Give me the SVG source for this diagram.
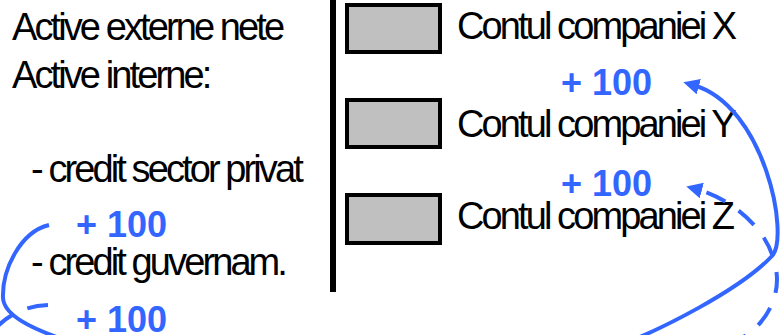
<svg xmlns="http://www.w3.org/2000/svg" width="781" height="335" viewBox="0 0 781 335">
  <style>
    .t { font-family: "Liberation Sans", Arial, sans-serif; font-size: 38px; letter-spacing: -2.9px; fill: #000; }
    .v { font-family: "Liberation Sans", Arial, sans-serif; font-size: 36px; font-weight: bold; fill: #3366ff; }
    .box { fill: #c0c0c0; stroke: #000; stroke-width: 4; }
    .flow { fill: none; stroke: #3366ff; stroke-width: 4; }
    .dash { stroke-dasharray: 21 16; }
  </style>
  <defs>
    <marker id="ah" viewBox="0 0 16 16" markerWidth="16" markerHeight="16" markerUnits="userSpaceOnUse" refX="6" refY="8" orient="auto-start-reverse">
      <path d="M0,0 L16,8 L0,16 z" fill="#3366ff"/>
    </marker>
  </defs>
  <rect width="781" height="335" fill="#fff"/>

  <g id="left-labels">
    <text class="t" x="12" y="40">Active externe nete</text>
    <text class="t" x="12" y="88">Active interne:</text>
    <text class="t" x="31" y="182">- credit sector privat</text>
    <text class="t" x="31" y="275">- credit guvernam.</text>
  </g>

  <g id="divider">
    <line x1="333" y1="0" x2="333" y2="292" stroke="#000" stroke-width="6"/>
  </g>

  <g id="account-x">
    <rect class="box" x="347" y="5" width="93" height="47"/>
    <text class="t" x="457" y="39">Contul companiei X</text>
  </g>
  <g id="account-y">
    <rect class="box" x="347" y="100" width="93" height="47"/>
    <text class="t" x="457" y="137">Contul companiei Y</text>
  </g>
  <g id="account-z">
    <rect class="box" x="347" y="195" width="93" height="48"/>
    <text class="t" x="457" y="229">Contul companiei Z</text>
  </g>

  <g id="values">
    <text class="v" x="76" y="237">+ 100</text>
    <text class="v" x="76" y="332">+ 100</text>
    <text class="v" x="561" y="95">+ 100</text>
    <text class="v" x="561" y="196">+ 100</text>
  </g>

  <g id="connectors">
    <path class="flow" d="M49,225 C20,232 2,270 3,298 C4,315 30,328 65,340 C250,400 500,390 620,345 C660,330 740,290 772,256 C790,237 765,105 693,85" marker-end="url(#ah)"/>
    <path class="flow dash" d="M48,305 C25,306 5,315 -10,335"/>
    <path class="flow dash" style="stroke-dashoffset:26" d="M696,189 C730,198 768,228 775,265 C782,290 770,320 745,336 C700,362 650,370 600,380" marker-start="url(#ah)"/>
  </g>
</svg>
